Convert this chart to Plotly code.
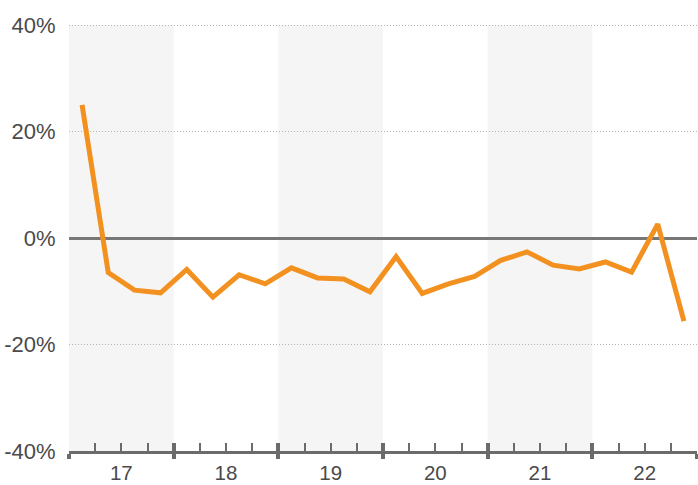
import plotly.graph_objects as go

years = ["17", "18", "19", "20", "21", "22"]
quarters_per_year = 4
values = [25.0, -6.5, -9.8, -10.3,
          -5.9, -11.1, -6.9, -8.6,
          -5.6, -7.5, -7.7, -10.1,
          -3.5, -10.4, -8.6, -7.2,
          -4.2, -2.6, -5.1, -5.8,
          -4.5, -6.4, 2.6, -15.6]
y_ticks = [-40, -20, 0, 20, 40]
shaded_years = ["17", "19", "21"]

n = len(values)
x = [i + 0.5 for i in range(n)]
year_bounds = [i * quarters_per_year for i in range(len(years) + 1)]
year_centers = [i * quarters_per_year + quarters_per_year / 2 for i in range(len(years))]
minor_vals = [i for i in range(n + 1) if i % quarters_per_year != 0]

TXT = "#4a4a4a"
AX = "#6b6b6b"
FONT = "Liberation Sans, Arial, sans-serif"

fig = go.Figure()
fig.add_trace(go.Scatter(x=x, y=values, mode="lines",
                         line=dict(color="#F39120", width=5),
                         hoverinfo="skip", showlegend=False))
for ax in ("x2", "x3"):
    fig.add_trace(go.Scatter(x=x, y=values, mode="lines", xaxis=ax,
                             line=dict(width=0), opacity=0,
                             hoverinfo="skip", showlegend=False))

shapes = []
for i, yr in enumerate(years):
    if yr in shaded_years:
        shapes.append(dict(type="rect", xref="x", yref="y",
                           x0=year_bounds[i], x1=year_bounds[i + 1],
                           y0=y_ticks[0], y1=y_ticks[-1],
                           fillcolor="#f5f5f5", line=dict(width=0), layer="below"))

rng = [0, n]
fig.update_layout(
    width=698, height=485,
    margin=dict(l=69, r=1, t=24, b=34),
    paper_bgcolor="white", plot_bgcolor="white",
    shapes=shapes,
    font=dict(family=FONT, color=TXT, size=22),
    xaxis=dict(range=rng, showgrid=False, zeroline=False, automargin=False,
               showline=True, linecolor=AX, linewidth=3,
               tickvals=year_bounds, ticks="outside", ticklen=5, tickwidth=3.5,
               tickcolor=AX, showticklabels=False,
               minor=dict(tickvals=minor_vals, ticks="inside", ticklen=8,
                          tickwidth=2, tickcolor=AX, showgrid=False)),
    xaxis2=dict(range=rng, overlaying="x", anchor="y", side="bottom",
                showgrid=False, zeroline=False, showline=False, automargin=False,
                tickvals=year_bounds, ticks="inside", ticklen=8, tickwidth=3.5,
                tickcolor=AX, showticklabels=False),
    xaxis3=dict(range=rng, overlaying="x", anchor="y", side="bottom",
                showgrid=False, zeroline=False, showline=False, automargin=False,
                tickvals=year_centers, ticktext=years, ticks="outside",
                ticklen=3, tickcolor="rgba(0,0,0,0)",
                tickfont=dict(size=20.5, color=TXT)),
    yaxis=dict(range=[-40, 40.19], tickvals=y_ticks, automargin=False,
               ticktext=[f"{v}%" for v in y_ticks],
               showgrid=True, gridcolor="#b5b5b5", griddash="1px,2px", gridwidth=1,
               zeroline=True, zerolinecolor="#777777", zerolinewidth=3,
               showline=False, ticks="outside", ticklen=8, tickcolor="rgba(0,0,0,0)",
               tickfont=dict(size=22, color=TXT)),
)

fig.write_html("out.html", config={"displayModeBar": False},
               post_script="document.body.style.margin='0';")
